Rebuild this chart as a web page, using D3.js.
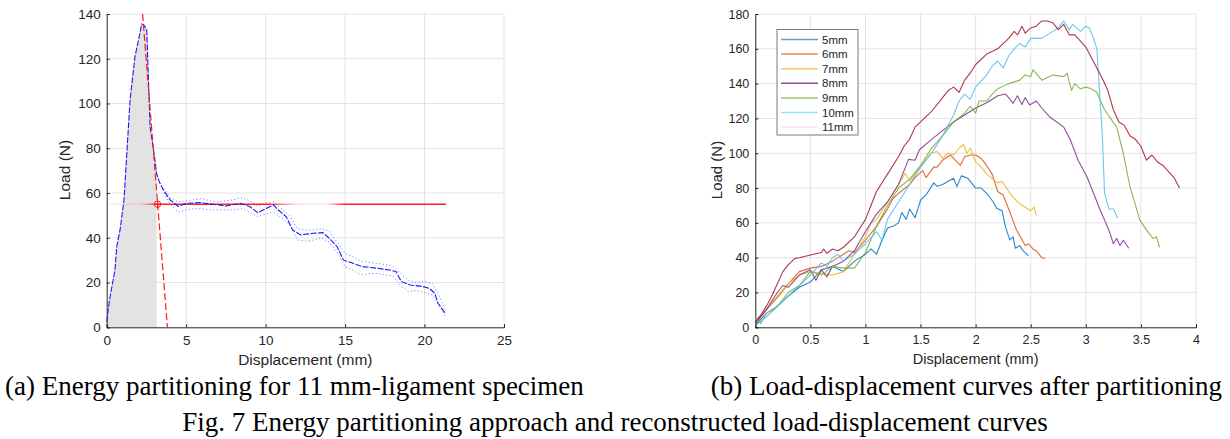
<!DOCTYPE html>
<html><head><meta charset="utf-8">
<script src="https://cdn.jsdelivr.net/npm/d3@7"></script>
<style>
body{margin:0;background:#fff;}
svg{display:block;}
.tick text{fill:#262626;}
</style></head>
<body>
<svg id="fig" width="1230" height="439"></svg>
<script>
// ---------- Data: panel (a) ----------
const aDisp = [0,0.17,0.52,0.63,0.84,1.09,1.47,1.78,2.05,2.2,2.35,2.52,2.73,2.98,3.14,3.31,3.56,3.98,4.5,5.0,5.87,6.7,7.5,8.4,9.0,9.5,10.06,10.5,10.8,11.3,11.7,12.2,13.0,13.6,14.0,14.5,14.9,15.5,16.1,17.0,17.8,18.2,18.55,19.1,19.9,20.3,20.65,20.85,21.3];
const aLoad = [2.5,12,25.6,36,43.5,57,101.6,121,130,135.5,135,133,89.7,77.7,68.8,65,61.4,57,54,55.4,55.7,55,54.2,55.4,54,51.2,53.2,54.7,52.4,49.4,43.5,41.3,42,42.3,39.8,36,30,28.6,27.1,26.4,25.6,24.9,20.4,18.9,18.2,17.4,15.2,10.7,6.3];
const rawDisp = [3.6,4.0,4.5,5.0,5.5,6.0,6.5,7.0,7.5,8.0,8.5,9.0,9.5,10.0,10.5,11.0,11.5,12.0,12.5,13.0,13.5,14.0,14.5,15.0,15.5,16.0,16.5,17.0,17.5,18.0,18.5,19.0,19.5,20.0,20.5,21.0,21.3];
const rawUpper = [62,58,56,56.5,57,57.5,56.5,56,56.5,57,58,56.5,54,55.5,56,53,50,44,43.5,43.5,44,43,38,33,31.5,29.5,29,28.5,28,27.5,24,21,20,20.5,19.5,13,8];
const rawLower = [60,55,51.5,52.5,53,53,52.5,52.5,52.5,52.5,53,51.5,49.5,50.5,51.5,49,46,39,38.5,39,40,38,33.5,27,25.5,23.5,24,24,23.5,23,18.5,16,16.5,15.5,14.5,9,5];
const unloadLine = [[2.26,140],[3.82,0]];
const plateauLoad = 55;
const plateauRange = [0,21.35];
const partitionDisp = 3.14;
const markerPoint = [3.2,55];
const aXTicks = [0,5,10,15,20,25];
const aYTicks = [0,20,40,60,80,100,120,140];

// ---------- Data: panel (b) ----------
const seriesNames = ["5mm","6mm","7mm","8mm","9mm","10mm","11mm"];
const s5x = [0,0.1,0.2,0.3,0.4,0.5,0.6,0.7,0.8,0.9,1.0,1.05,1.1,1.15,1.2,1.25,1.3,1.33,1.37,1.4,1.45,1.5,1.56,1.62,1.65,1.7,1.8,1.83,1.87,1.93,2.0,2.05,2.1,2.16,2.19,2.24,2.27,2.31,2.34,2.36,2.4,2.43,2.48];
const s5y = [1.3,8,12,18,23,26,33,35,32,38,42,45,42,50,57,58,60,66,62,68,63,73,77,83,81,82,85.6,80.8,87,85.6,80,80,77,72,68.4,67,57.8,50.2,52,45.4,47,44,41];
const s6x = [0,0.1,0.2,0.3,0.4,0.5,0.6,0.7,0.8,0.85,0.9,1.0,1.1,1.2,1.25,1.3,1.4,1.45,1.52,1.55,1.62,1.65,1.7,1.77,1.8,1.86,1.9,1.95,2.0,2.05,2.1,2.15,2.2,2.25,2.3,2.37,2.45,2.48,2.52,2.55,2.6,2.63];
const s6y = [3,10,17,25,32,34,35,38,42,44,43,50,58,68,74,77,82,86,90,86,92,92,96,99,97,93,98,99,99,97,93,88,78,76,68,56,47,48,45,44,40,39.6];
const s7x = [0,0.1,0.2,0.3,0.4,0.5,0.6,0.7,0.8,0.9,1.0,1.05,1.1,1.2,1.3,1.36,1.4,1.5,1.59,1.65,1.7,1.75,1.8,1.85,1.89,1.92,1.95,2.0,2.05,2.1,2.2,2.24,2.3,2.35,2.4,2.5,2.53,2.55];
const s7y = [4,10,18,25,30,32,31,30,32,42,52,60,62,72,82,88.5,84,92,100,101,97,100,99,103,105,100,103,95,92,88,83,83.7,78,74,71,67,69,64.5];
const s8x = [0,0.1,0.2,0.25,0.3,0.4,0.5,0.55,0.6,0.65,0.7,0.8,0.9,1.0,1.1,1.2,1.3,1.35,1.39,1.45,1.49,1.6,1.7,1.8,1.9,2.0,2.1,2.2,2.27,2.3,2.34,2.38,2.42,2.45,2.49,2.55,2.6,2.67,2.8,2.86,2.93,3.01,3.07,3.13,3.17,3.22,3.25,3.28,3.31,3.34,3.39];
const s8y = [2,10,20,24,23,30,33,27,33,29,35,38,44,55,65,72,82,90,96.5,96,102,108,113,118,122,126,129,133,134,132,128.7,133,128,132,127.7,130,126,121,115,107.6,96,86.5,77,67.4,61.7,54,48,51,47,50,45.4];
const s9x = [0,0.1,0.2,0.3,0.4,0.5,0.6,0.7,0.8,0.9,1.0,1.1,1.2,1.3,1.4,1.5,1.6,1.7,1.8,1.9,1.95,2.0,2.03,2.1,2.15,2.2,2.3,2.4,2.45,2.5,2.52,2.6,2.7,2.8,2.83,2.87,2.9,2.95,3.0,3.05,3.1,3.17,3.28,3.34,3.4,3.49,3.55,3.61,3.64,3.67];
const s9y = [1,6,12,20,24,32,30,35,34,34,43,58,70,80,85,93,103,110,118,123,127,123,130,130,134,137,140,142,145,144,148,142,145,144,146,136,140,137,138,137,135,125,115,100,81,61.7,56,51,52,46];
const s10x = [0,0.05,0.1,0.2,0.3,0.4,0.5,0.6,0.65,0.7,0.75,0.8,0.9,1.0,1.1,1.15,1.2,1.3,1.4,1.5,1.6,1.7,1.8,1.85,1.9,1.95,2.0,2.1,2.15,2.2,2.25,2.3,2.35,2.4,2.45,2.5,2.6,2.7,2.75,2.8,2.85,2.88,2.95,3.0,3.03,3.07,3.1,3.12,3.15,3.17,3.21,3.25,3.29];
const s10y = [6,2,8,12,18,24,30,37,35,40,42,38,42,48,55,50,62,72,82,92,100,110,122,130,134,131,138,145,150,153,149,156,160,163,161,166,166,170,172,176,171,174,170,173,172,166,160,140,110,77,68,68,62.6];
const s11x = [0,0.05,0.1,0.15,0.2,0.25,0.3,0.36,0.4,0.5,0.6,0.62,0.65,0.7,0.75,0.8,0.9,1.0,1.05,1.1,1.2,1.3,1.35,1.4,1.45,1.5,1.6,1.7,1.75,1.8,1.85,1.9,1.95,2.0,2.1,2.2,2.3,2.35,2.38,2.42,2.45,2.5,2.55,2.6,2.65,2.7,2.75,2.8,2.85,2.9,3.0,3.1,3.15,3.2,3.25,3.3,3.35,3.4,3.45,3.5,3.55,3.6,3.65,3.7,3.8,3.85];
const s11y = [3,7,12,18,25,32,36,39.6,40,41.5,43,45,42.5,45,44,46,52,62,70,78,88,98,104,108,115,118,124,132,136,138,135,142,146,151,157,160,166,170,168,173,169,172,173,176,176,175,171,174,168,168,161,149,143,136,125,118,116,110,108,104,96,99,95,93,86,80];
const bXTicks = [0,0.5,1,1.5,2,2.5,3,3.5,4];
const bYTicks = [0,20,40,60,80,100,120,140,160,180];

const captionA = "(a) Energy partitioning for 11 mm-ligament specimen";
const captionB = "(b) Load-displacement curves after partitioning";
const figCaption = "Fig. 7 Energy partitioning approach and reconstructed load-displacement curves";

// ---------- Styles ----------
const colors = ["#0072BD","#D95319","#EDB120","#7E2F8E","#77AC30","#4DBEEE","#A2142F"];
const legendOpacity = [0.65,0.7,0.7,0.85,0.7,0.5,0.12];
const axisColor = "#262626";
const gridColor = "#e3e3e3";
const sansFont = "'Liberation Sans', Arial, sans-serif";
const serifFont = "'Liberation Serif', 'Times New Roman', serif";

const svg = d3.select("#fig");
const defs = svg.append("defs");

function drawFrame(g, x, y, xTicks, yTicks, tickFont, fmtX) {
  const [x0,x1] = x.range(), [y0,y1] = y.range();
  g.append("g").selectAll("line").data(xTicks.slice(1)).join("line")
    .attr("x1", d=>x(d)).attr("x2", d=>x(d)).attr("y1", y0).attr("y2", y1)
    .attr("stroke", gridColor).attr("stroke-width", 1);
  g.append("g").selectAll("line").data(yTicks.slice(1)).join("line")
    .attr("x1", x0).attr("x2", x1).attr("y1", d=>y(d)).attr("y2", d=>y(d))
    .attr("stroke", gridColor).attr("stroke-width", 1);
  const xa = g.append("g").attr("transform", `translate(0,${y0})`)
    .call(d3.axisBottom(x).tickValues(xTicks).tickSize(-3).tickPadding(8).tickFormat(fmtX));
  const ya = g.append("g").attr("transform", `translate(${x0},0)`)
    .call(d3.axisLeft(y).tickValues(yTicks).tickSize(-3).tickPadding(6).tickFormat(d3.format("d")));
  [xa, ya].forEach(a => {
    a.select(".domain").attr("stroke", axisColor).attr("stroke-width", 1);
    a.selectAll(".tick line").attr("stroke", axisColor);
    a.selectAll(".tick text").attr("font-family", sansFont).attr("font-size", tickFont).attr("fill", axisColor);
  });
}

// ================= Panel (a) =================
const xA = d3.scaleLinear().domain([0,25]).range([106.7,504]);
const yA = d3.scaleLinear().domain([0,140]).range([327.3,14]);
const gA = svg.append("g");

// shaded elastic energy area
const aPts = aDisp.map((d,i)=>[d,aLoad[i]]);
const shadePts = aPts.filter(p=>p[0] <= partitionDisp).concat([[partitionDisp, aLoad[aDisp.indexOf(partitionDisp)]]]);
gA.append("path").datum(shadePts)
  .attr("d", d3.area().x(d=>xA(d[0])).y0(yA(0)).y1(d=>yA(d[1])))
  .attr("fill", "#e3e3e3");

drawFrame(gA, xA, yA, aXTicks, aYTicks, "13.5px", d3.format("d"));

// raw noisy traces
[rawUpper, rawLower].forEach(arr => {
  gA.append("path").datum(rawDisp.map((d,i)=>[d,arr[i]]))
    .attr("d", d3.line().x(d=>xA(d[0])).y(d=>yA(d[1])).curve(d3.curveLinear))
    .attr("fill","none").attr("stroke","#3344ff").attr("stroke-width",1)
    .attr("stroke-dasharray","1,2.5").attr("opacity",0.75);
});

// plateau line with faded gradient
const grad = defs.append("linearGradient").attr("id","plateauGrad")
  .attr("gradientUnits","userSpaceOnUse")
  .attr("x1", xA(plateauRange[0])).attr("x2", xA(plateauRange[1])).attr("y1",0).attr("y2",0);
[[0,0.08],[0.1,0.12],[0.15,1],[0.47,1],[0.56,0.15],[0.65,0.1],[0.7,1],[1,1]].forEach(s=>{
  grad.append("stop").attr("offset", s[0]).attr("stop-color","#ff2020").attr("stop-opacity", s[1]);
});
gA.append("line")
  .attr("x1", xA(plateauRange[0])).attr("x2", xA(plateauRange[1]))
  .attr("y1", yA(plateauLoad)).attr("y2", yA(plateauLoad))
  .attr("stroke","url(#plateauGrad)").attr("stroke-width",1.6);

// main load curve
gA.append("path").datum(aPts)
  .attr("d", d3.line().x(d=>xA(d[0])).y(d=>yA(d[1])))
  .attr("fill","none").attr("stroke","#1a1aff").attr("stroke-width",1.1)
  .attr("stroke-dasharray","6,1.5");

// unloading dashed line
gA.append("line")
  .attr("x1", xA(unloadLine[0][0])).attr("y1", yA(unloadLine[0][1]))
  .attr("x2", xA(unloadLine[1][0])).attr("y2", yA(unloadLine[1][1]))
  .attr("stroke","#ff1a1a").attr("stroke-width",1.2).attr("stroke-dasharray","7,3");

// intersection marker
const mx = xA(markerPoint[0]), my = yA(markerPoint[1]);
gA.append("circle").attr("cx",mx).attr("cy",my).attr("r",3.2)
  .attr("fill","none").attr("stroke","#ff2020").attr("stroke-width",1);
gA.append("path").attr("d",`M${mx-4},${my}H${mx+4}M${mx},${my-4}V${my+4}`)
  .attr("stroke","#ff2020").attr("stroke-width",1);

// labels
gA.append("text").attr("x", (xA.range()[0]+xA.range()[1])/2).attr("y", 365)
  .attr("text-anchor","middle").attr("font-family",sansFont).attr("font-size","15.5px")
  .attr("fill",axisColor).text("Displacement (mm)");
gA.append("text").attr("transform","translate(70,170) rotate(-90)")
  .attr("text-anchor","middle").attr("font-family",sansFont).attr("font-size","15.5px")
  .attr("fill",axisColor).text("Load (N)");

// ================= Panel (b) =================
const xB = d3.scaleLinear().domain([0,4]).range([755.3,1196]);
const yB = d3.scaleLinear().domain([0,180]).range([327.3,14]);
const gB = svg.append("g");
drawFrame(gB, xB, yB, bXTicks, bYTicks, "12.5px", d => d3.format("")(d));

const allX = [s5x,s6x,s7x,s8x,s9x,s10x,s11x];
const allY = [s5y,s6y,s7y,s8y,s9y,s10y,s11y];
const lineB = d3.line().x(d=>xB(d[0])).y(d=>yB(d[1]));
seriesNames.forEach((name,i)=>{
  gB.append("path").datum(allX[i].map((d,j)=>[d, allY[i][j]]))
    .attr("d", lineB).attr("fill","none")
    .attr("stroke", colors[i]).attr("stroke-width",1.1).attr("stroke-opacity",0.85)
    .attr("stroke-linejoin","round");
});

// legend
const leg = gB.append("g").attr("transform","translate(777,29.5)");
leg.append("rect").attr("width",81).attr("height",105.5)
  .attr("fill","#fff").attr("stroke","#7a7a7a").attr("stroke-width",1);
seriesNames.forEach((name,i)=>{
  const yy = 10 + i*14.6;
  leg.append("line").attr("x1",4).attr("x2",41).attr("y1",yy).attr("y2",yy)
    .attr("stroke",colors[i]).attr("stroke-width",1.5).attr("stroke-opacity",legendOpacity[i]);
  leg.append("text").attr("x",45).attr("y",yy+4).attr("font-family",sansFont)
    .attr("font-size","11.5px").attr("fill",axisColor).text(name);
});

gB.append("text").attr("x", (xB.range()[0]+xB.range()[1])/2).attr("y", 364)
  .attr("text-anchor","middle").attr("font-family",sansFont).attr("font-size","14.5px")
  .attr("fill",axisColor).text("Displacement (mm)");
gB.append("text").attr("transform","translate(722,170) rotate(-90)")
  .attr("text-anchor","middle").attr("font-family",sansFont).attr("font-size","15px")
  .attr("fill",axisColor).text("Load (N)");

// ================= Captions =================
svg.append("text").attr("x",5).attr("y",395).attr("text-anchor","start")
  .attr("font-family",serifFont).attr("font-size","27px").attr("fill","#000").text(captionA);
svg.append("text").attr("x",1222).attr("y",395).attr("text-anchor","end")
  .attr("font-family",serifFont).attr("font-size","27px").attr("fill","#000").text(captionB);
svg.append("text").attr("x",615).attr("y",431).attr("text-anchor","middle")
  .attr("font-family",serifFont).attr("font-size","27px").attr("fill","#000").text(figCaption);
</script>
</body></html>
